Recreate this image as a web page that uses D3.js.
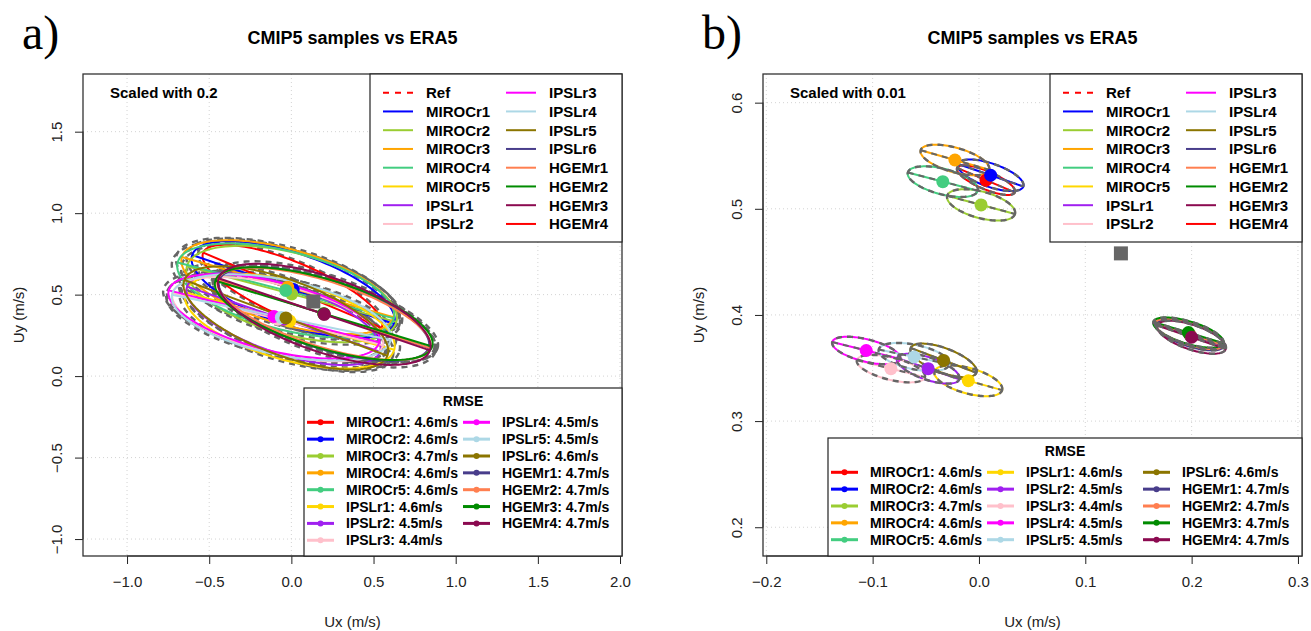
<!DOCTYPE html>
<html>
<head>
<meta charset="utf-8">
<script src="https://cdn.jsdelivr.net/npm/d3@7"></script>
<style>
  body { margin: 0; background: #fff; }
  text { font-family: "Liberation Sans", Arial, sans-serif; }
</style>
</head>
<body>
<div id="chart"></div>
<script>
// model runs, in plotting order
var models = ["MIROCr1", "MIROCr2", "MIROCr3", "MIROCr4", "MIROCr5",
              "IPSLr1", "IPSLr2", "IPSLr3", "IPSLr4", "IPSLr5", "IPSLr6",
              "HGEMr1", "HGEMr2", "HGEMr3", "HGEMr4"];
var modelColors = ["#FF0000", "#0000FF", "#9ACD32", "#FFA500", "#43CD80",
                   "#FFD700", "#A020F0", "#FFC0CB", "#FF00FF", "#ADD8E6", "#8B7500",
                   "#483D8B", "#FF7F50", "#008B00", "#8B0A50"];
var rmse = [4.6, 4.6, 4.7, 4.6, 4.6,
            4.6, 4.5, 4.4, 4.5, 4.5, 4.6,
            4.7, 4.7, 4.7, 4.7];
// mean wind of each run (m/s)
var meanUx = [0.0066, 0.011, 0.002, -0.0226, -0.034,
              -0.010, -0.0478, -0.0828, -0.106, -0.061, -0.0333,
              0.1985, 0.198, 0.197, 0.200];
var meanUy = [0.527, 0.5316, 0.5037, 0.546, 0.5256,
              0.338, 0.3494, 0.3494, 0.3665, 0.3604, 0.3572,
              0.381, 0.382, 0.3834, 0.379];
// spread ellipse of each run before scaling (m/s, degrees)
var semiMajor = [2.95, 3.25, 3.3, 3.35, 3.4,
                 3.3, 3.1, 3.3, 3.3, 3.4, 3.3,
                 3.35, 3.4, 3.45, 3.4];
var semiMinor = [0.85, 1.1, 1.25, 1.15, 1.2,
                 1.2, 1.05, 1.05, 1.05, 1.15, 1.15,
                 1.05, 1.0, 1.05, 1.15];
var angleDeg = [-23, -19, -15, -16, -14.6,
                -15.5, -18.8, -14, -14, -11.8, -20.6,
                -18, -18, -17, -19];
// ERA5 reference mean
var refUx = 0.1335, refUy = 0.458;
var scales = [0.2, 0.01];
var panelLetters = ["a)", "b)"];
var xTicksA = [-1.0, -0.5, 0.0, 0.5, 1.0, 1.5, 2.0];
var yTicksA = [-1.0, -0.5, 0.0, 0.5, 1.0, 1.5];
var xTicksB = [-0.2, -0.1, 0.0, 0.1, 0.2, 0.3];
var yTicksB = [0.2, 0.3, 0.4, 0.5, 0.6];
// the top legend lists colours shifted by one against the plotted runs
var legendLabels = ["Ref"].concat(models);
var legendColors = [modelColors[0]].concat(modelColors.slice(1), [modelColors[0]]);

var svg = d3.select("#chart").append("svg")
    .attr("width", 1311).attr("height", 631);

var fmt = function (d) { return d3.format(".1f")(d).replace("-", "\u2212"); };

var panels = [
    {left: 83, right: 622, xDom: [-1.268, 2.012], yDom: [-1.104, 1.854], xt: xTicksA, yt: yTicksA,
     rmseCols: 2, dashGrow: 1.05, dashOnTop: false},
    {left: 763, right: 1302, xDom: [-0.2031, 0.3038], yDom: [0.1729, 0.627], xt: xTicksB, yt: yTicksB,
     rmseCols: 3, dashGrow: 1.0, dashOnTop: true}
];
var plotTop = 74, plotBottom = 556;
var gray = "#666666";

panels.forEach(function (p, pi) {
    var x = d3.scaleLinear().domain(p.xDom).range([p.left, p.right]);
    var y = d3.scaleLinear().domain(p.yDom).range([plotBottom, plotTop]);
    var g = svg.append("g");
    var s = scales[pi];

    // panel letter and title
    g.append("text").attr("x", p.left - 61).attr("y", 49)
        .style("font-family", "'Liberation Serif', 'Times New Roman', serif")
        .style("font-size", "48px").text(panelLetters[pi]);
    g.append("text").attr("x", (p.left + p.right) / 2).attr("y", 44)
        .attr("text-anchor", "middle").style("font-weight", "bold").style("font-size", "18px")
        .text("CMIP5 samples vs ERA5");

    // grid
    g.selectAll(".gx").data(p.xt).enter().append("line")
        .attr("x1", x).attr("x2", x).attr("y1", plotTop).attr("y2", plotBottom)
        .attr("stroke", "#d3d3d3").attr("stroke-dasharray", "1,3");
    g.selectAll(".gy").data(p.yt).enter().append("line")
        .attr("y1", y).attr("y2", y).attr("x1", p.left).attr("x2", p.right)
        .attr("stroke", "#d3d3d3").attr("stroke-dasharray", "1,3");

    // axes
    var xAxis = d3.axisBottom(x).tickValues(p.xt).tickSize(8).tickPadding(12).tickFormat(fmt);
    var yAxis = d3.axisLeft(y).tickValues(p.yt).tickSize(8).tickFormat(fmt);
    var gx = g.append("g").attr("transform", "translate(0," + plotBottom + ")").call(xAxis);
    var gy = g.append("g").attr("transform", "translate(" + p.left + ",0)").call(yAxis);
    [gx, gy].forEach(function (a) {
        a.select(".domain").attr("stroke", "#222");
        a.selectAll(".tick line").attr("stroke", "#222");
        a.selectAll("text").style("font-size", "15px").attr("fill", "#222")
            .style("font-family", "'Liberation Sans', Arial, sans-serif");
    });
    // axis line only spans the outer ticks
    gx.select(".domain").attr("d", "M" + x(p.xt[0]) + ",0H" + x(p.xt[p.xt.length - 1]));
    gy.select(".domain").attr("d", "M0," + y(p.yt[0]) + "V" + y(p.yt[p.yt.length - 1]));
    gy.selectAll(".tick text").attr("transform", "rotate(-90)")
        .attr("x", 0).attr("y", -21).attr("dy", "0").attr("text-anchor", "middle");
    g.append("text").attr("x", (p.left + p.right) / 2).attr("y", 627)
        .attr("text-anchor", "middle").style("font-size", "15px").attr("fill", "#222").text("Ux (m/s)");
    g.append("text").attr("transform", "translate(" + (p.left - 59) + "," + ((plotTop + plotBottom) / 2) + ") rotate(-90)")
        .attr("text-anchor", "middle").style("font-size", "15px").attr("fill", "#222").text("Uy (m/s)");

    // ellipses
    var ts = d3.range(0, 120).map(function (i) { return i / 120 * 2 * Math.PI; });
    var closed = d3.line().curve(d3.curveLinearClosed);
    var open = d3.line();
    function ellipse(i, grow) {
        var phi = angleDeg[i] * Math.PI / 180, a = s * grow * semiMajor[i], b = s * grow * semiMinor[i];
        return closed(ts.map(function (t) {
            return [x(meanUx[i] + a * Math.cos(t) * Math.cos(phi) - b * Math.sin(t) * Math.sin(phi)),
                    y(meanUy[i] + a * Math.cos(t) * Math.sin(phi) + b * Math.sin(t) * Math.cos(phi))];
        }));
    }
    function majorAxis(i) {
        var phi = angleDeg[i] * Math.PI / 180, a = s * semiMajor[i];
        return open([
            [x(meanUx[i] - a * Math.cos(phi)), y(meanUy[i] - a * Math.sin(phi))],
            [x(meanUx[i] + a * Math.cos(phi)), y(meanUy[i] + a * Math.sin(phi))]]);
    }
    var plot = g.append("g");
    var colorLayer = plot.append("g"), dashLayer = plot.append("g");
    if (!p.dashOnTop) dashLayer.lower();
    models.forEach(function (m, i) {
        colorLayer.append("path").attr("d", ellipse(i, 1)).attr("fill", "none")
            .attr("stroke", modelColors[i]).attr("stroke-width", 2);
        colorLayer.append("path").attr("d", majorAxis(i)).attr("fill", "none")
            .attr("stroke", modelColors[i]).attr("stroke-width", 2);
        dashLayer.append("path").attr("d", ellipse(i, p.dashGrow)).attr("fill", "none")
            .attr("stroke", gray).attr("stroke-width", 2.4).attr("stroke-dasharray", "6,5");
        if (p.dashOnTop) {
            dashLayer.append("path").attr("d", majorAxis(i)).attr("fill", "none")
                .attr("stroke", gray).attr("stroke-width", 2).attr("stroke-dasharray", "6,5");
        }
    });
    plot.selectAll(".pt").data(models).enter().append("circle")
        .attr("cx", function (d, i) { return x(meanUx[i]); })
        .attr("cy", function (d, i) { return y(meanUy[i]); })
        .attr("r", 6.5).attr("fill", function (d, i) { return modelColors[i]; });
    plot.append("rect").attr("x", x(refUx) - 7).attr("y", y(refUy) - 7)
        .attr("width", 14).attr("height", 14).attr("fill", gray);

    // plot box
    g.append("rect").attr("x", p.left).attr("y", plotTop)
        .attr("width", p.right - p.left).attr("height", plotBottom - plotTop)
        .attr("fill", "none").attr("stroke", "#333").attr("stroke-width", 1.3);

    g.append("text").attr("x", p.left + 27).attr("y", 98)
        .style("font-weight", "bold").style("font-size", "15px").text("Scaled with " + s);

    // top-right legend
    var lw = 252, lh = 168, lx = p.right - lw;
    var lg = g.append("g").attr("transform", "translate(" + lx + "," + plotTop + ")");
    lg.append("rect").attr("width", lw).attr("height", lh).attr("fill", "#fff")
        .attr("stroke", "#222").attr("stroke-width", 1.2);
    legendLabels.forEach(function (lab, i) {
        var col = Math.floor(i / 8), row = i % 8;
        var ox = col * 123, oy = 18.7 + row * 18.75;
        lg.append("line").attr("x1", 13 + ox).attr("x2", 43 + ox).attr("y1", oy).attr("y2", oy)
            .attr("stroke", legendColors[i]).attr("stroke-width", 2)
            .attr("stroke-dasharray", i === 0 ? "6,6" : null);
        lg.append("text").attr("x", 56 + ox).attr("y", oy + 5.5)
            .style("font-weight", "bold").style("font-size", "15px").text(lab);
    });

    // RMSE legend
    var rows = Math.ceil(models.length / p.rmseCols);
    var rw = p.rmseCols === 2 ? 318 : 474, rh = p.rmseCols === 2 ? 168 : 118;
    var rg = g.append("g").attr("transform", "translate(" + (p.right - rw) + "," + (plotBottom - rh) + ")");
    rg.append("rect").attr("width", rw).attr("height", rh).attr("fill", "#fff")
        .attr("stroke", "#222").attr("stroke-width", 1.2);
    rg.append("text").attr("x", rw / 2).attr("y", 17.5).attr("text-anchor", "middle")
        .style("font-weight", "bold").style("font-size", "14px").text("RMSE");
    models.forEach(function (m, i) {
        var col = Math.floor(i / rows), row = i % rows;
        var ox = col * 156, oy = 34.3 + row * 16.85;
        rg.append("line").attr("x1", 3 + ox).attr("x2", 30 + ox).attr("y1", oy).attr("y2", oy)
            .attr("stroke", modelColors[i]).attr("stroke-width", 3);
        rg.append("circle").attr("cx", 16.5 + ox).attr("cy", oy).attr("r", 3).attr("fill", modelColors[i]);
        rg.append("text").attr("x", 42 + ox).attr("y", oy + 5)
            .style("font-weight", "bold").style("font-size", "14px")
            .text(m + ": " + rmse[i] + "m/s");
    });
});
</script>
</body>
</html>
